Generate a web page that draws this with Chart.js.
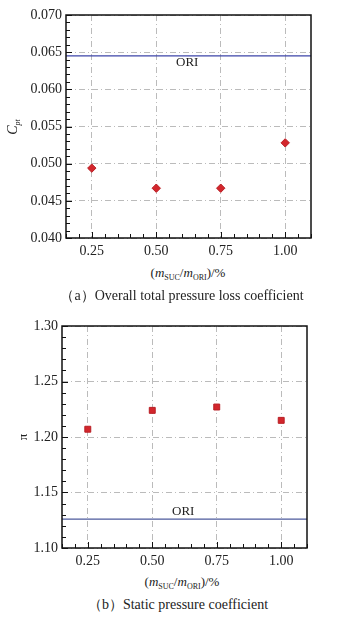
<!DOCTYPE html>
<html>
<head>
<meta charset="utf-8">
<script src="https://cdn.jsdelivr.net/npm/chart.js@4.4.0/dist/chart.umd.min.js"></script>
<style>
  body { margin: 0; background: #fff; width: 343px; height: 617px; position: relative; overflow: hidden;
         font-family: 'Liberation Serif', 'Times New Roman', serif; color: #222; }
  .cv { position: absolute; left: 0; }
  .txt { position: absolute; white-space: nowrap; transform: translate(-50%, -50%); }
  .rot { transform: translate(-50%, -50%) rotate(-90deg); }
  sub { font-size: 8px; vertical-align: -3px; line-height: 0; }
</style>
</head>
<body>
<div class="cv" style="top:0;width:343px;height:260px"><canvas id="chartA"></canvas></div>
<div class="cv" style="top:300px;width:343px;height:270px"><canvas id="chartB"></canvas></div>

<div class="txt rot" style="left:13px;top:127px;font-size:14px"><i>C</i><sub><i>pt</i></sub></div>
<div class="txt" style="left:188px;top:273px;font-size:13px">(<i>m</i><sub>SUC</sub>/<i>m</i><sub>ORI</sub>)/%</div>
<div class="txt" style="left:182px;top:296px;font-size:14px">（a）Overall total pressure loss coefficient</div>

<div class="txt rot" style="left:23px;top:437px;font-size:13px">π</div>
<div class="txt" style="left:182px;top:582px;font-size:13px">(<i>m</i><sub>SUC</sub>/<i>m</i><sub>ORI</sub>)/%</div>
<div class="txt" style="left:178px;top:605px;font-size:14px">（b）Static pressure coefficient</div>

<script>
// x positions (suction mass flow ratio, %)
const xVals = [0.25, 0.50, 0.75, 1.00];
const xTicks = [0.25, 0.50, 0.75, 1.00];
const xMin = 0.15, xMax = 1.1;

// (a) total pressure loss coefficient
const cptVals = [0.0494, 0.0467, 0.0467, 0.0528];
const cptOri = 0.0645;
const cptTicks = [0.040, 0.045, 0.050, 0.055, 0.060, 0.065, 0.070];

// (b) static pressure coefficient
const piVals = [1.207, 1.224, 1.227, 1.215];
const piOri = 1.126;
const piTicks = [1.10, 1.15, 1.20, 1.25, 1.30];

const serif = "'Liberation Serif', 'Times New Roman', serif";

// frame, inward major/minor ticks and the ORI label
const framePlugin = {
  id: 'frame',
  afterDraw(chart, args, opts) {
    const { ctx, chartArea: a, scales } = chart;
    const xs = scales.x, ys = scales.y;
    ctx.save();
    ctx.strokeStyle = '#111';
    ctx.lineWidth = 1;
    // minor + major ticks on bottom axis
    for (let i = 0; ; i++) {
      const v = +(xMin + 0.05 * i).toFixed(4);
      if (v > xMax + 1e-9) break;
      const px = Math.round(xs.getPixelForValue(v)) + 0.5;
      const major = xTicks.some(t => Math.abs(t - v) < 1e-6);
      ctx.beginPath();
      ctx.moveTo(px, a.bottom);
      ctx.lineTo(px, a.bottom - (major ? 6 : 4));
      ctx.stroke();
    }
    // minor + major ticks on left axis
    const yT = opts.yTicks, step = opts.minorStep;
    const n = Math.round((yT[yT.length - 1] - yT[0]) / step);
    for (let i = 0; i <= n; i++) {
      const v = yT[0] + step * i;
      const py = Math.round(ys.getPixelForValue(v)) + 0.5;
      const major = i % Math.round((yT[1] - yT[0]) / step) === 0;
      ctx.beginPath();
      ctx.moveTo(a.left, py);
      ctx.lineTo(a.left + (major ? 6 : 4), py);
      ctx.stroke();
    }
    // frame
    ctx.lineWidth = 1.5;
    ctx.strokeRect(a.left, a.top, a.right - a.left, a.bottom - a.top);
    // ORI label
    ctx.fillStyle = '#222';
    ctx.font = '13px ' + serif;
    ctx.textAlign = 'center';
    ctx.textBaseline = 'middle';
    ctx.fillText('ORI', xs.getPixelForValue(opts.labelX), ys.getPixelForValue(opts.ori) + opts.labelDy);
    ctx.restore();
  }
};

function makeChart(id, vals, ori, yTicks, minorStep, style, radius, oriColor, pad, yWidth, labelDy) {
  const yMin = yTicks[0], yMax = yTicks[yTicks.length - 1];
  return new Chart(document.getElementById(id), {
    type: 'scatter',
    data: {
      datasets: [
        {
          data: xVals.map((x, i) => ({ x: x, y: vals[i] })),
          pointStyle: style,
          pointRadius: radius,
          backgroundColor: '#d3262c',
          borderColor: '#b81f25',
          borderWidth: 1
        },
        {
          type: 'line',
          data: [{ x: xMin, y: ori }, { x: xMax, y: ori }],
          borderColor: oriColor,
          borderWidth: 1.2,
          pointRadius: 0
        }
      ]
    },
    options: {
      responsive: true,
      maintainAspectRatio: false,
      animation: false,
      layout: { padding: pad },
      plugins: {
        legend: { display: false },
        tooltip: { enabled: false },
        frame: { yTicks: yTicks, minorStep: minorStep, ori: ori, labelX: 0.62, labelDy: labelDy }
      },
      scales: {
        x: {
          type: 'linear',
          min: xMin, max: xMax,
          afterBuildTicks: s => { s.ticks = xTicks.map(v => ({ value: v })); },
          afterFit: s => { s.height = 22; },
          border: { display: false, dash: [6, 3, 1, 3] },
          grid: { color: '#aaa', lineWidth: 0.8, drawTicks: false },
          ticks: {
            padding: 5, color: '#222', maxRotation: 0,
            font: { family: serif, size: 14 },
            callback: v => v.toFixed(2)
          }
        },
        y: {
          type: 'linear',
          min: yMin, max: yMax,
          afterBuildTicks: s => { s.ticks = yTicks.map(v => ({ value: v })); },
          afterFit: s => { s.width = yWidth; },
          border: { display: false, dash: [6, 3, 1, 3] },
          grid: { color: '#aaa', lineWidth: 0.8, drawTicks: false },
          ticks: {
            padding: 4, color: '#222',
            font: { family: serif, size: 14 },
            callback: v => v.toFixed(minorStep < 0.005 ? 3 : 2)
          }
        }
      }
    },
    plugins: [framePlugin]
  });
}

makeChart('chartA', cptVals, cptOri, cptTicks, 0.001, 'rectRot', 4.2, '#3c44a8',
  { top: 15, right: 32, left: 0, bottom: 0 }, 66, 7);
makeChart('chartB', piVals, piOri, piTicks, 0.01, 'rect', 4.2, '#4d5a9c',
  { top: 26, right: 36, left: 0, bottom: 0 }, 62, -8);
</script>
</body>
</html>
